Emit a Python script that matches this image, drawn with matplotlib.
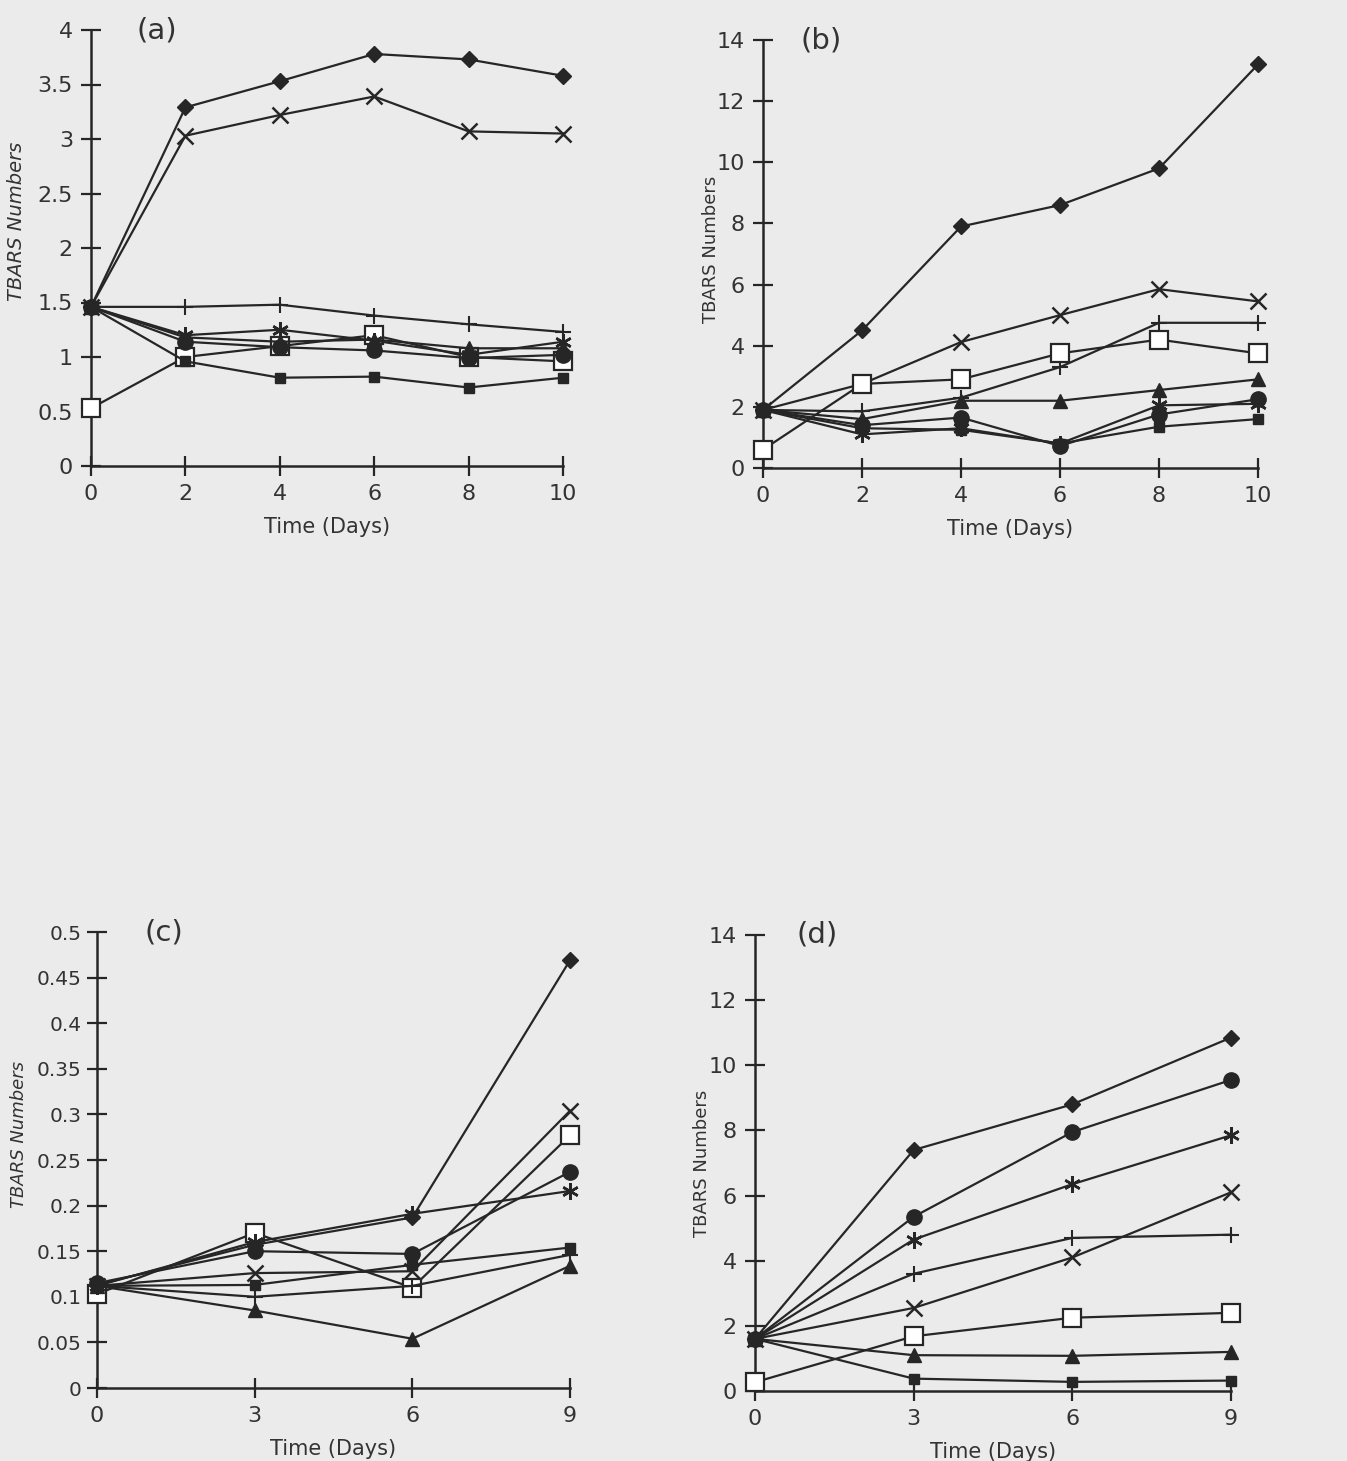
import matplotlib
matplotlib.use("Agg")
import matplotlib.pyplot as plt

W, H = 1347, 1461

# ---------------- data ----------------
days_ab = [0, 2, 4, 6, 8, 10]
days_cd = [0, 3, 6, 9]

a_diamond = [1.46, 3.29, 3.53, 3.78, 3.73, 3.58]
a_x = [1.46, 3.03, 3.22, 3.39, 3.07, 3.05]
a_plus = [1.46, 1.46, 1.48, 1.38, 1.30, 1.23]
a_open_sq = [0.53, 1.00, 1.10, 1.20, 1.00, 0.96]
a_asterisk = [1.46, 1.20, 1.25, 1.15, 1.02, 1.14]
a_triangle = [1.46, 1.18, 1.14, 1.16, 1.08, 1.08]
a_circle = [1.46, 1.14, 1.09, 1.06, 0.99, 1.02]
a_filled_sq = [1.46, 0.96, 0.81, 0.82, 0.72, 0.81]

b_diamond = [1.9, 4.5, 7.9, 8.6, 9.8, 13.2]
b_x = [1.9, 2.75, 4.12, 5.0, 5.85, 5.45]
b_plus = [1.9, 1.85, 2.3, 3.3, 4.75, 4.75]
b_open_sq = [0.6, 2.75, 2.9, 3.75, 4.2, 3.75]
b_triangle = [1.9, 1.6, 2.2, 2.2, 2.55, 2.9]
b_circle = [1.9, 1.4, 1.65, 0.72, 1.75, 2.25]
b_asterisk = [1.9, 1.1, 1.3, 0.8, 2.05, 2.1]
b_filled_sq = [1.9, 1.3, 1.25, 0.8, 1.35, 1.6]

c_diamond = [0.113, 0.157, 0.187, 0.469]
c_x = [0.112, 0.126, 0.128, 0.304]
c_open_sq = [0.103, 0.170, 0.110, 0.277]
c_circle = [0.115, 0.150, 0.147, 0.237]
c_asterisk = [0.112, 0.160, 0.191, 0.216]
c_filled_sq = [0.112, 0.113, 0.135, 0.154]
c_plus = [0.112, 0.100, 0.112, 0.146]
c_triangle = [0.112, 0.085, 0.054, 0.134]

d_diamond = [1.6, 7.4, 8.8, 10.85]
d_circle = [1.6, 5.35, 7.95, 9.55]
d_asterisk = [1.6, 4.65, 6.35, 7.85]
d_x = [1.6, 2.55, 4.1, 6.1]
d_plus = [1.6, 3.6, 4.7, 4.8]
d_open_sq = [0.27, 1.68, 2.25, 2.4]
d_triangle = [1.6, 1.1, 1.08, 1.2]
d_filled_sq = [1.6, 0.38, 0.28, 0.32]

yt_a = [0, 0.5, 1, 1.5, 2, 2.5, 3, 3.5, 4]
yl_a = ["0", "0.5", "1", "1.5", "2", "2.5", "3", "3.5", "4"]
yt_b = [0, 2, 4, 6, 8, 10, 12, 14]
yt_c = [0, 0.05, 0.1, 0.15, 0.2, 0.25, 0.3, 0.35, 0.4, 0.45, 0.5]
yl_c = ["0", "0.05", "0.1", "0.15", "0.2", "0.25", "0.3", "0.35", "0.4", "0.45", "0.5"]

# ---------------- styles ----------------
INK = "#262626"
BG = "#ebebeb"
styles = {
    "diamond": dict(marker="D", ms=8, mfc=INK, mec=INK),
    "x": dict(marker="x", ms=12, mfc="none", mec=INK, mew=1.8),
    "plus": dict(marker="+", ms=12, mfc="none", mec=INK, mew=1.5),
    "open_sq": dict(marker="s", ms=13, mfc="white", mec=INK, mew=1.6),
    "asterisk": dict(marker=(6, 2, 0), ms=12, mfc="none", mec=INK, mew=1.8),
    "triangle": dict(marker="^", ms=10, mfc=INK, mec=INK),
    "circle": dict(marker="o", ms=11, mfc=INK, mec=INK),
    "filled_sq": dict(marker="s", ms=7, mfc=INK, mec=INK),
}

fig = plt.figure(figsize=(W / 100, H / 100), dpi=100)
fig.patch.set_facecolor(BG)
plt.rcParams["font.family"] = ["DejaVu Sans"]


def make_ax(x0, x1, y0, y1):
    # pixel positions of the data extents
    return fig.add_axes([x0 / W, 1 - y0 / H, (x1 - x0) / W, (y0 - y1) / H])


def style_ax(ax, xmax, ymax, xt, yt, yl, letter, italic_ylabel,
             ylab_x, ylab_y, letter_x, ylab_size, tick_size=16, ypad=6):
    ax.set_facecolor("none")
    ax.set_xlim(0, xmax)
    ax.set_ylim(0, ymax)
    for s in ("top", "right"):
        ax.spines[s].set_visible(False)
    for s in ("left", "bottom"):
        ax.spines[s].set_color(INK)
        ax.spines[s].set_linewidth(1.8)
    ax.set_xticks(xt)
    ax.set_yticks(yt)
    ax.set_yticklabels(yl)
    ax.tick_params(direction="inout", length=14, width=1.6, color=INK,
                   labelsize=16, labelcolor="#333333", pad=6)
    ax.tick_params(axis="y", labelsize=tick_size, pad=ypad)
    ax.set_xlabel("Time (Days)", fontsize=15, color="#333333", labelpad=9)
    ax.set_ylabel("TBARS Numbers", fontsize=ylab_size, color="#333333",
                  style="italic" if italic_ylabel else "normal")
    ax.yaxis.set_label_coords(ylab_x, ylab_y)
    ax.text(letter_x, 1.0, letter, transform=ax.transAxes, fontsize=21,
            color="#333333", ha="left", va="center")


def draw(ax, x, series):
    for name, vals in series:
        ax.plot(x, vals, color=INK, lw=1.6, clip_on=False, zorder=3, **styles[name])


# (a)
ax = make_ax(91, 563, 466, 30)
style_ax(ax, 10, 4, days_ab, yt_a, yl_a, "(a)", True, -0.138, 0.56, 0.097, 14)
draw(ax, days_ab, [("diamond", a_diamond), ("x", a_x), ("plus", a_plus),
                   ("open_sq", a_open_sq), ("asterisk", a_asterisk),
                   ("triangle", a_triangle), ("circle", a_circle),
                   ("filled_sq", a_filled_sq)])

# (b)
ax = make_ax(763, 1258, 468, 40)
style_ax(ax, 10, 14, days_ab, yt_b, [str(v) for v in yt_b], "(b)", False,
         -0.087, 0.51, 0.075, 13)
draw(ax, days_ab, [("diamond", b_diamond), ("x", b_x), ("plus", b_plus),
                   ("open_sq", b_open_sq), ("triangle", b_triangle),
                   ("circle", b_circle), ("asterisk", b_asterisk),
                   ("filled_sq", b_filled_sq)])

# (c)
ax = make_ax(97, 570, 1388, 932)
style_ax(ax, 9, 0.5, days_cd, yt_c, yl_c, "(c)", True, -0.145, 0.555, 0.10, 13,
         tick_size=14.5, ypad=4)
draw(ax, days_cd, [("diamond", c_diamond), ("x", c_x), ("open_sq", c_open_sq),
                   ("circle", c_circle), ("asterisk", c_asterisk),
                   ("filled_sq", c_filled_sq), ("plus", c_plus),
                   ("triangle", c_triangle)])

# (d)
ax = make_ax(755, 1231, 1391, 935)
style_ax(ax, 9, 14, days_cd, yt_b, [str(v) for v in yt_b], "(d)", False,
         -0.092, 0.50, 0.088, 13)
draw(ax, days_cd, [("diamond", d_diamond), ("circle", d_circle),
                   ("asterisk", d_asterisk), ("x", d_x), ("plus", d_plus),
                   ("open_sq", d_open_sq), ("triangle", d_triangle),
                   ("filled_sq", d_filled_sq)])

fig.savefig("out.png", dpi=100, facecolor=BG)
